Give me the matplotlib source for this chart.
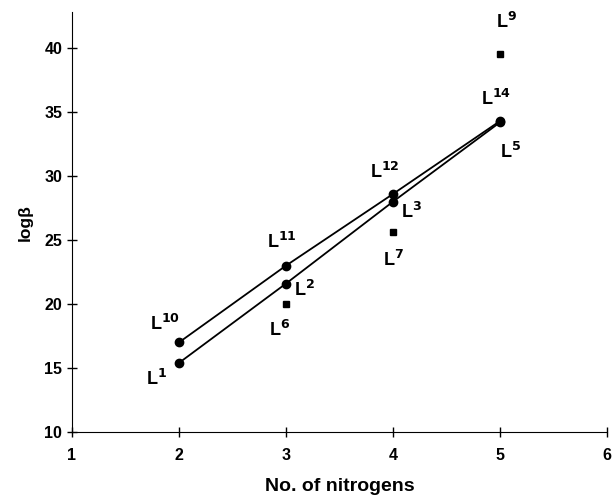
import matplotlib
matplotlib.use("Agg")
import matplotlib.pyplot as plt

plt.rcParams["font.family"] = ["Liberation Sans", "DejaVu Sans"]
plt.rcParams["font.weight"] = "bold"

# upper line: L10, L11, L12, L14
x_up = [2, 3, 4, 5]
y_up = [17.0, 23.0, 28.6, 34.3]
lab_up = ["10", "11", "12", "14"]

# lower line: L1, L2, L3, L5
x_low = [2, 3, 4, 5]
y_low = [15.4, 21.6, 28.0, 34.2]
lab_low = ["1", "2", "3", "5"]

# unconnected squares: L6, L7, L9
x_sq = [3, 4, 5]
y_sq = [20.0, 25.6, 39.5]
lab_sq = ["6", "7", "9"]

# label offsets in pixels (dx, dy) from each point
off_up = [(-14, 18), (-4, 24), (-8, 22), (-4, 22)]
off_low = [(-22, -16), (18, -6), (18, -10), (10, -30)]
off_sq = [(-6, -26), (0, -28), (6, 32)]

fig = plt.figure(figsize=(6.12, 5.01), dpi=100)
ax = fig.add_axes([0.1176, 0.1377, 0.8744, 0.838])

ax.plot(x_up, y_up, color="black", lw=1.3, marker="o", ms=6)
ax.plot(x_low, y_low, color="black", lw=1.3, marker="o", ms=6)
ax.plot(x_sq, y_sq, ls="none", color="black", marker="s", ms=5)

for xs, ys, labs, offs in [(x_up, y_up, lab_up, off_up),
                           (x_low, y_low, lab_low, off_low),
                           (x_sq, y_sq, lab_sq, off_sq)]:
    for x, y, lab, (dx, dy) in zip(xs, ys, labs, offs):
        ax.annotate("L$^{\\mathbf{" + lab + "}}$", (x, y), xytext=(dx, dy),
                    textcoords="offset pixels", ha="center", va="center",
                    fontsize=13, fontweight="bold")

ax.set_xlim(1, 6)
ax.set_ylim(10, 42.8)
ax.set_xticks([1, 2, 3, 4, 5, 6])
ax.set_yticks([10, 15, 20, 25, 30, 35, 40])
ax.spines["top"].set_visible(False)
ax.spines["right"].set_visible(False)
ax.tick_params(direction="inout", length=7, width=1, labelsize=11.5)
ax.tick_params(axis="x", pad=8)
ax.set_xlabel("No. of nitrogens", fontsize=14, fontweight="bold", labelpad=11)
ax.set_ylabel("logβ", fontsize=12.5, fontweight="bold", labelpad=8)

fig.savefig("out.png", dpi=100)
